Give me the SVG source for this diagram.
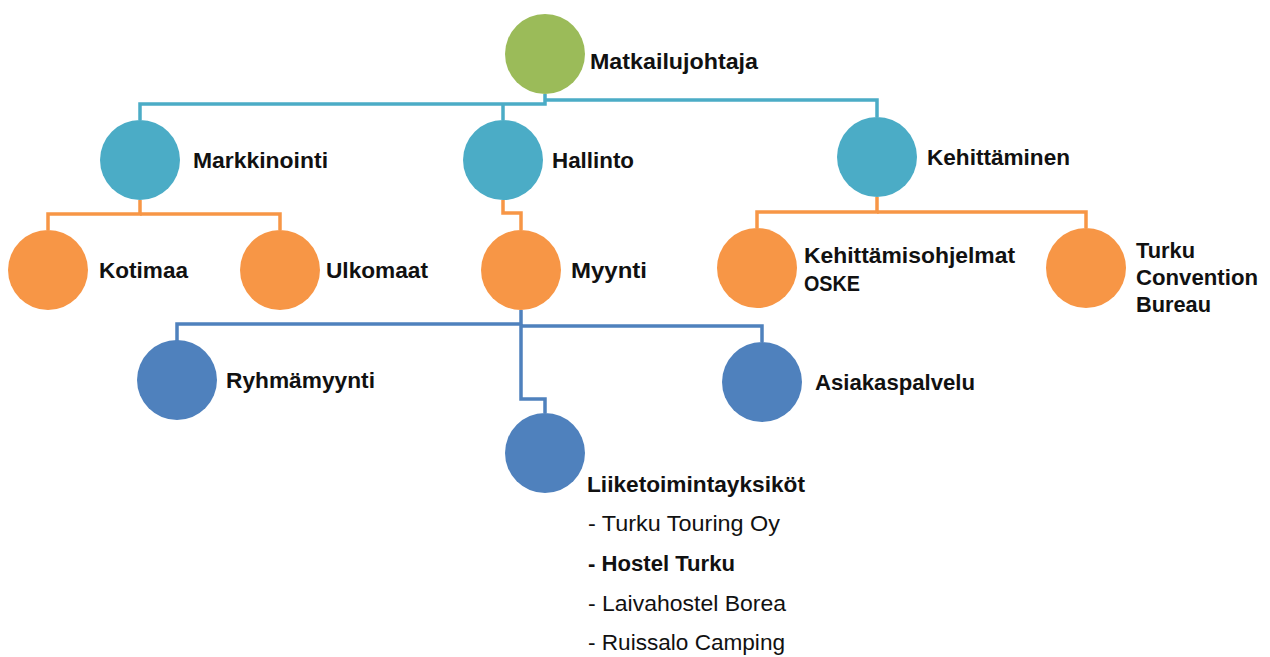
<svg xmlns="http://www.w3.org/2000/svg" width="1270" height="657" viewBox="0 0 1270 657">
<style>
.t{font-family:"Liberation Sans",Arial,sans-serif;font-size:22px;font-weight:bold;fill:#111}
.n{font-family:"Liberation Sans",Arial,sans-serif;font-size:22px;fill:#111}
.c{fill:none;stroke-width:3.5;stroke-linejoin:miter}
.teal{stroke:#4BACC6}.org{stroke:#F79646}.blu{stroke:#4F81BD}
</style>
<rect width="1270" height="657" fill="#fff"/>
<g id="connectors">
<polyline class="c teal" points="545,94 545,104 140,104 140,120"/>
<polyline class="c teal" points="503,104 503,120"/>
<polyline class="c teal" points="545,100 877,100 877,117"/>
<polyline class="c org" points="140,200 140,214 48,214 48,230"/>
<polyline class="c org" points="140,214 280,214 280,230"/>
<polyline class="c org" points="503,200 503,213 521,213 521,230"/>
<polyline class="c org" points="877,197 877,212 757,212 757,228"/>
<polyline class="c org" points="877,212 1086,212 1086,228"/>
<polyline class="c blu" points="521,310 521,324 177,324 177,341"/>
<polyline class="c blu" points="521,326 762,326 762,342"/>
<polyline class="c blu" points="521,324 521,399 545,399 545,413"/>
</g>
<g id="n-matkailujohtaja"><circle cx="545" cy="54" r="40" fill="#9BBB59"/><text class="t" x="590" y="69" textLength="168" lengthAdjust="spacingAndGlyphs">Matkailujohtaja</text></g>
<g id="n-markkinointi"><circle cx="140" cy="160" r="40" fill="#4BACC6"/><text class="t" x="193" y="168" textLength="135" lengthAdjust="spacingAndGlyphs">Markkinointi</text></g>
<g id="n-hallinto"><circle cx="503" cy="160" r="40" fill="#4BACC6"/><text class="t" x="552" y="168" textLength="82" lengthAdjust="spacingAndGlyphs">Hallinto</text></g>
<g id="n-kehittaminen"><circle cx="877" cy="157" r="40" fill="#4BACC6"/><text class="t" x="927" y="165" textLength="143" lengthAdjust="spacingAndGlyphs">Kehittäminen</text></g>
<g id="n-kotimaa"><circle cx="48" cy="270" r="40" fill="#F79646"/><text class="t" x="99" y="278" textLength="89" lengthAdjust="spacingAndGlyphs">Kotimaa</text></g>
<g id="n-ulkomaat"><circle cx="280" cy="270" r="40" fill="#F79646"/><text class="t" x="326" y="278" textLength="102" lengthAdjust="spacingAndGlyphs">Ulkomaat</text></g>
<g id="n-myynti"><circle cx="521" cy="270" r="40" fill="#F79646"/><text class="t" x="571" y="278" textLength="76" lengthAdjust="spacingAndGlyphs">Myynti</text></g>
<g id="n-kehittamisohjelmat"><circle cx="757" cy="268" r="40" fill="#F79646"/><text class="t" x="804" y="263" textLength="211" lengthAdjust="spacingAndGlyphs">Kehittämisohjelmat</text><text class="t" x="804" y="291" textLength="56" lengthAdjust="spacingAndGlyphs">OSKE</text></g>
<g id="n-turku-convention-bureau"><circle cx="1086" cy="268" r="40" fill="#F79646"/><text class="t" x="1136" y="258" textLength="59" lengthAdjust="spacingAndGlyphs">Turku</text><text class="t" x="1136" y="285" textLength="122" lengthAdjust="spacingAndGlyphs">Convention</text><text class="t" x="1136" y="312" textLength="75" lengthAdjust="spacingAndGlyphs">Bureau</text></g>
<g id="n-ryhmamyynti"><circle cx="177" cy="380" r="40" fill="#4F81BD"/><text class="t" x="226" y="388" textLength="149" lengthAdjust="spacingAndGlyphs">Ryhmämyynti</text></g>
<g id="n-asiakaspalvelu"><circle cx="762" cy="382" r="40" fill="#4F81BD"/><text class="t" x="815" y="390" textLength="160" lengthAdjust="spacingAndGlyphs">Asiakaspalvelu</text></g>
<g id="n-liiketoimintayksikot"><circle cx="545" cy="453" r="40" fill="#4F81BD"/>
<text class="t" x="587" y="492" textLength="218" lengthAdjust="spacingAndGlyphs">Liiketoimintayksiköt</text>
<text class="n" x="588" y="531" textLength="192" lengthAdjust="spacingAndGlyphs">- Turku Touring Oy</text>
<text class="t" x="588" y="571" textLength="147" lengthAdjust="spacingAndGlyphs">- Hostel Turku</text>
<text class="n" x="588" y="611" textLength="198" lengthAdjust="spacingAndGlyphs">- Laivahostel Borea</text>
<text class="n" x="588" y="650" textLength="197" lengthAdjust="spacingAndGlyphs">- Ruissalo Camping</text>
</g>
</svg>
